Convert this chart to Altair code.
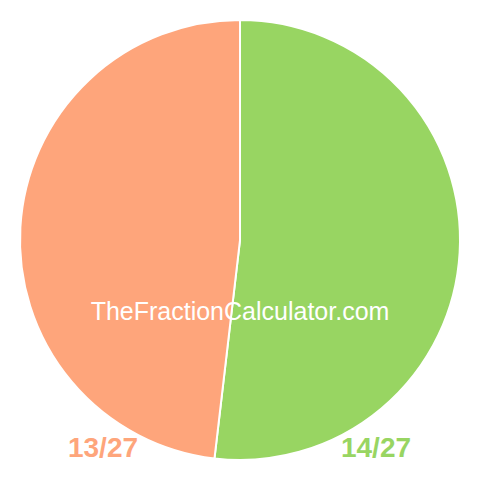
import altair as alt
import pandas as pd

labels = ["14/27", "13/27"]
values = [14, 13]
colors = ["#98d562", "#fea57b"]
order = [0, 1]

df = pd.DataFrame({"label": labels, "value": values, "order": order})

pie = alt.Chart(df).mark_arc(outerRadius=220, stroke="white", strokeWidth=2).encode(
    theta=alt.Theta("value:Q", stack=True),
    order=alt.Order("order:Q"),
    color=alt.Color("label:N", scale=alt.Scale(domain=labels, range=colors), legend=None),
)

lab_df = pd.DataFrame({"label": ["13/27", "14/27"], "px": [95, 368], "col": ["#fea57b", "#98d562"]})
lab = alt.Chart(lab_df).mark_text(fontSize=28, fontWeight="bold", font="Liberation Sans", baseline="middle", align="center").encode(
    x=alt.X("px:Q", scale=None),
    y=alt.value(441),
    text="label:N",
    color=alt.Color("col:N", scale=None),
)

wm = alt.Chart(pd.DataFrame({"t": ["TheFractionCalculator.com"]})).mark_text(
    fontSize=25, font="Liberation Sans", color="white", align="center", baseline="middle"
).encode(x=alt.value(232), y=alt.value(304), text="t:N")

chart = alt.layer(pie, lab, wm).properties(
    width=464, height=464, padding=0, autosize=alt.AutoSizeParams(type="none")
).configure_view(stroke=None)

chart.save("out.html", embed_options={"renderer": "svg", "actions": False})
